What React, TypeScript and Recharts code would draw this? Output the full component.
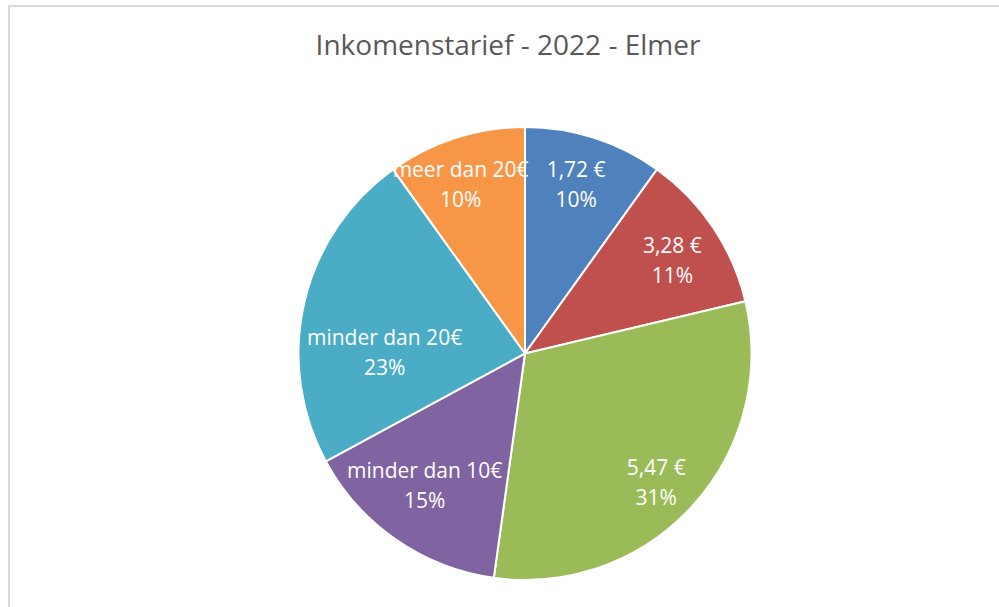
import React from 'react';
import { PieChart, Pie, Cell } from 'recharts';

const categories = ['1,72 €', '3,28 €', '5,47 €', 'minder dan 10€', 'minder dan 20€', 'meer dan 20€'];
const values = [9.9, 11.4, 30.9, 14.9, 23.0, 9.9];
const colors = ['#4F81BD', '#C0504D', '#9BBB59', '#8064A2', '#4BACC6', '#F79646'];
const title = 'Inkomenstarief  - 2022 - Elmer';

// label placement style (radius fraction, angle adjustment in degrees)
const labelRadius = [0.78, 0.77, 0.81, 0.73, 0.62, 0.8];
const labelAngleShift = [1, -1.5, -2, -2.6, 12.4, 3];

const data = categories.map((name, i) => ({ name, value: values[i] }));

const RAD = Math.PI / 180;
const FONT = "'Open Sans', 'Liberation Sans', sans-serif";

const renderLabel = (props: any) => {
  const { cx, cy, midAngle, outerRadius, percent, name, index } = props;
  const r = outerRadius * labelRadius[index];
  const a = midAngle + labelAngleShift[index];
  const x = cx + r * Math.cos(-a * RAD);
  const y = cy + r * Math.sin(-a * RAD);
  return (
    <text x={x} y={y} fill="#ffffff" textAnchor="middle" fontFamily={FONT} fontSize={21}>
      <tspan x={x} dy={-7}>{name}</tspan>
      <tspan x={x} dy={30}>{Math.round(percent * 100) + '%'}</tspan>
    </text>
  );
};

export default function App() {
  return (
    <div style={{ position: 'absolute', left: 0, top: 0, width: 999, height: 607, background: '#ffffff', overflow: 'hidden' }}>
      <div style={{ position: 'absolute', left: 8, top: 5, width: 991, height: 602, borderTop: '2px solid #d9d9d9', borderLeft: '2px solid #d9d9d9' }} />
      <div style={{ position: 'absolute', left: 0, top: 0 }}>
        <PieChart width={999} height={607} margin={{ top: 0, right: 0, bottom: 0, left: 0 }}>
          <text x={508} y={55} textAnchor="middle" fill="#595959" fontFamily={FONT} fontSize={28}>{title}</text>
          <Pie
            data={data}
            dataKey="value"
            nameKey="name"
            cx={525}
            cy={353.5}
            outerRadius={226.5}
            startAngle={90}
            endAngle={-270}
            stroke="#ffffff"
            strokeWidth={2}
            label={renderLabel}
            labelLine={false}
            isAnimationActive={false}
          >
            {data.map((d, i) => (
              <Cell key={d.name} fill={colors[i]} />
            ))}
          </Pie>
        </PieChart>
      </div>
    </div>
  );
}
